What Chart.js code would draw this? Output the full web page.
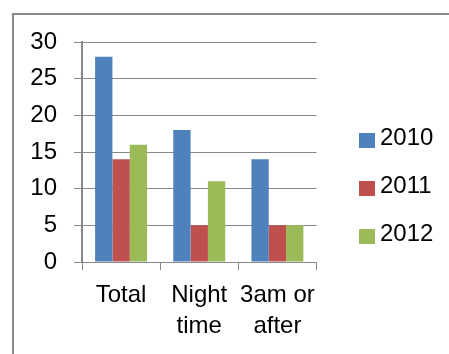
<!DOCTYPE html>
<html>
<head>
<meta charset="utf-8">
<script src="https://cdn.jsdelivr.net/npm/chart.js@4/dist/chart.umd.min.js"></script>
<style>
  html, body { margin: 0; padding: 0; background: #fff; }
  #wrap { position: relative; width: 449px; height: 354px; overflow: hidden; }
  #frame {
    position: absolute; left: 12px; top: 13px; width: 480px; height: 400px;
    border-left: 2px solid #888; border-top: 2px solid #888; box-sizing: border-box;
  }
  #c { position: absolute; left: 0; top: 0; }
</style>
</head>
<body>
<div id="wrap">
  <div id="frame"></div>
  <canvas id="c" width="449" height="354"></canvas>
</div>
<script>
// Categories (multi-line labels as arrays)
const categories = ["Total", ["Night", "time"], ["3am or", "after"]];
// Series
const seriesNames = ["2010", "2011", "2012"];
const values2010 = [28, 18, 14];
const values2011 = [14, 5, 5];
const values2012 = [16, 11, 5];
// Value axis
const yMin = 0;
const yMax = 30;
const yStep = 5;

const seriesColors = ["#4F81BD", "#C0504D", "#9BBB59"];
const gridColor = "#888888";
const fontFamily = "'Liberation Sans', Arial, sans-serif";

// Legend drawn to the right of the plot, one row per dataset
const sideLegend = {
  id: "sideLegend",
  afterDraw(chart, args, opts) {
    const ctx = chart.ctx;
    ctx.save();
    ctx.font = opts.fontSize + "px " + fontFamily;
    ctx.textBaseline = "middle";
    ctx.textAlign = "left";
    chart.data.datasets.forEach((ds, i) => {
      const top = opts.y + i * opts.gap;
      ctx.fillStyle = ds.backgroundColor;
      ctx.fillRect(opts.x, top, opts.boxW, opts.boxH);
      ctx.fillStyle = "#000";
      ctx.fillText(ds.label, opts.x + opts.boxW + opts.textGap, top + opts.textDy);
    });
    ctx.restore();
  }
};

const dataSeries = [values2010, values2011, values2012];

new Chart(document.getElementById("c"), {
  type: "bar",
  data: {
    labels: categories,
    datasets: seriesNames.map((name, i) => ({
      label: name,
      data: dataSeries[i],
      backgroundColor: seriesColors[i],
      borderWidth: 0,
      categoryPercentage: 0.665,
      barPercentage: 1
    }))
  },
  options: {
    responsive: false,
    devicePixelRatio: 1,
    animation: false,
    layout: { padding: { top: 42, right: 132.5, left: 0, bottom: 0 } },
    plugins: {
      legend: { display: false },
      tooltip: { enabled: false },
      sideLegend: { x: 359, y: 133, gap: 48, boxW: 16, boxH: 15, textGap: 5, textDy: 5.5, fontSize: 24 }
    },
    scales: {
      x: {
        afterFit(scale) { scale.height = 92; },
        grid: {
          offset: true,
          drawOnChartArea: false,
          drawTicks: true,
          tickLength: 8,
          color: gridColor,
          lineWidth: 1
        },
        border: { display: true, color: gridColor, width: 1 },
        ticks: {
          color: "#000",
          padding: 10,
          maxRotation: 0,
          autoSkip: false,
          font: { family: fontFamily, size: 24, lineHeight: 31 / 24 }
        }
      },
      y: {
        min: yMin,
        max: yMax,
        afterFit(scale) { scale.width = 82; },
        grid: {
          color: gridColor,
          lineWidth: 1,
          drawTicks: true,
          tickLength: 8
        },
        border: { display: true, color: gridColor, width: 2 },
        ticks: {
          stepSize: yStep,
          color: "#000",
          padding: 17,
          font: { family: fontFamily, size: 24 }
        }
      }
    }
  },
  plugins: [sideLegend]
});
</script>
</body>
</html>
